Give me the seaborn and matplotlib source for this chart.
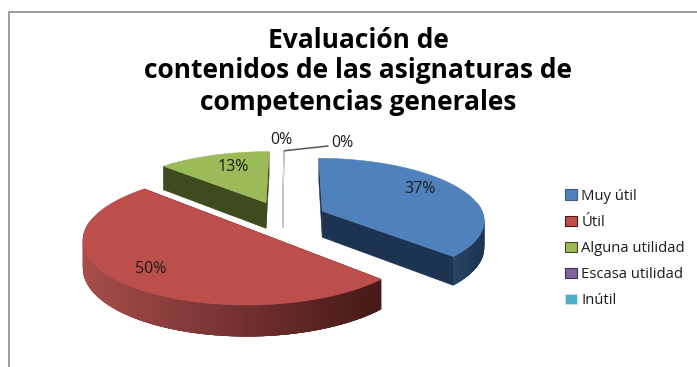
import numpy as np
import matplotlib
matplotlib.use("Agg")
import matplotlib.pyplot as plt
from matplotlib.patches import Patch, Polygon
from matplotlib.colors import to_rgb
import seaborn as sns

# Data
title_lines = ["Evaluación de", "contenidos de las asignaturas de", "competencias generales"]
categories = ["Muy útil", "Útil", "Alguna utilidad", "Escasa utilidad", "Inútil"]
values = [37, 50, 13, 0, 0]
top_colors = ["#4F81BD", "#BC4F4C", "#9BBB59", "#8064A2", "#4BACC6"]
wall_light = ["#2A4769", "#A84E4B", "#4A5826", "#5A4674", "#C4E2EC"]
wall_dark = ["#1D3352", "#471918", "#3F4A1F", "#3F2F55", "#C4E2EC"]
label_xy = [(420, 189), (151, 269), (233, 167), (281, 140), (342, 143)]

sns.set_theme(style="white")
plt.rcParams["font.family"] = ["Open Sans", "DejaVu Sans"]
palette = sns.color_palette(top_colors)

# Perspective pie geometry (pixels)
CX, CY, RX, RY, K, EXPL, DEPTH, START = 282.5, 217.5, 162, 61.5, 0.1335, 0.27, 26.5, 0.5


def project(x, z):
    s = 1 / (1 + K * np.asarray(z))
    return CX + RX * np.asarray(x) * s, CY - RY * np.asarray(z) * s, s


fig = plt.figure(figsize=(6.97, 3.67), dpi=100)
ax = fig.add_axes([0, 0, 1, 1])
ax.set_xlim(0, 697)
ax.set_ylim(367, 0)
ax.axis("off")

# Chart frame
ax.plot([8.5, 8.5, 697], [367, 12, 12], color="#8E8E8E", lw=1.2, solid_joinstyle="miter")

# Angular spans from the values
edges = START + np.cumsum([0] + values) * 3.6
spans = {i: (edges[i], edges[i + 1]) for i in range(len(values))}


def blend(a, b, t):
    a, b = np.array(to_rgb(a)), np.array(to_rgb(b))
    return tuple(a + (b - a) * t)


def draw_slice(i):
    a, b = spans[i]
    mid = np.radians((a + b) / 2)
    ex, ez = EXPL * np.sin(mid), EXPL * np.cos(mid)
    th = np.radians(np.linspace(a, b, max(int(b - a) * 2, 2)))
    x, z = ex + np.sin(th), ez + np.cos(th)
    X, Y, S = project(x, z)
    ax_, ay_, as_ = project(ex, ez)
    d = DEPTH * S
    ad = DEPTH * as_
    # radial cut faces
    for j in (0, -1):
        ax.add_patch(Polygon([(ax_, ay_), (X[j], Y[j]), (X[j], Y[j] + d[j]), (ax_, ay_ + ad)],
                             closed=True, fc=wall_dark[i], ec=wall_dark[i], lw=0.4))
    # outer rim with a left-to-right shade; each strip overlaps the next to hide seams
    vis = np.cos(th) < 0.15
    if vis.any():
        lo, hi = X[vis].min(), X[vis].max()
        order = np.argsort(X[:-1])
        for j in order:
            if vis[j]:
                k = min(j + 4, len(th) - 1)
                t = (X[j] - lo) / max(hi - lo, 1)
                col = blend(wall_light[i], wall_dark[i], t)
                ax.add_patch(Polygon(np.r_[np.column_stack([X[j:k + 1], Y[j:k + 1]]),
                                           np.column_stack([X[j:k + 1], (Y + d)[j:k + 1]])[::-1]],
                                     closed=True, fc=col, ec="none"))
    # top face
    ax.add_patch(Polygon(np.column_stack([np.r_[ax_, X], np.r_[ay_, Y]]), closed=True,
                         fc=palette[i], ec=palette[i], lw=0.4))


def draw_zero(i):
    a = np.radians(spans[i][0])
    ex, ez = EXPL * np.sin(a), EXPL * np.cos(a)
    X, Y, S = project(ex + np.sin(a), ez + np.cos(a))
    x0, y0, s0 = project(ex, ez)
    ax.plot([X, x0, x0], [Y, y0, y0 + DEPTH * s0], color=wall_light[i], lw=0.9)
    return X, Y


draw_slice(2)
tip = draw_zero(3)
draw_zero(4)
draw_slice(0)
draw_slice(1)

# Leader line of the last 0% label
ax.plot([tip[0] + 0.5, label_xy[4][0] - 14], [tip[1], label_xy[4][1] + 3], color="#555555", lw=1.1)

for v, (lx, ly) in zip(values, label_xy):
    ax.text(lx, ly, f"{v}%", ha="center", va="center", fontsize=11.5, color="#1c1c1c")

for line, y in zip(title_lines, [40, 71, 102]):
    ax.text(358, y, line, ha="center", va="center", fontsize=19, fontweight="bold", color="black")

handles = [Patch(fc=c, ec=wall_dark[i] if i else "#385D8A", lw=0.8, label=n)
           for i, (c, n) in enumerate(zip(palette, categories))]
ax.legend(handles=handles, loc="upper left", bbox_to_anchor=(555 / 697, 1 - 178.5 / 367), frameon=False,
          fontsize=10.7, handlelength=0.76, handleheight=0.72, handletextpad=0.3, labelspacing=0.748,
          borderpad=0.2, labelcolor="#1c1c1c")

fig.savefig("out.png", dpi=100, facecolor="white")
